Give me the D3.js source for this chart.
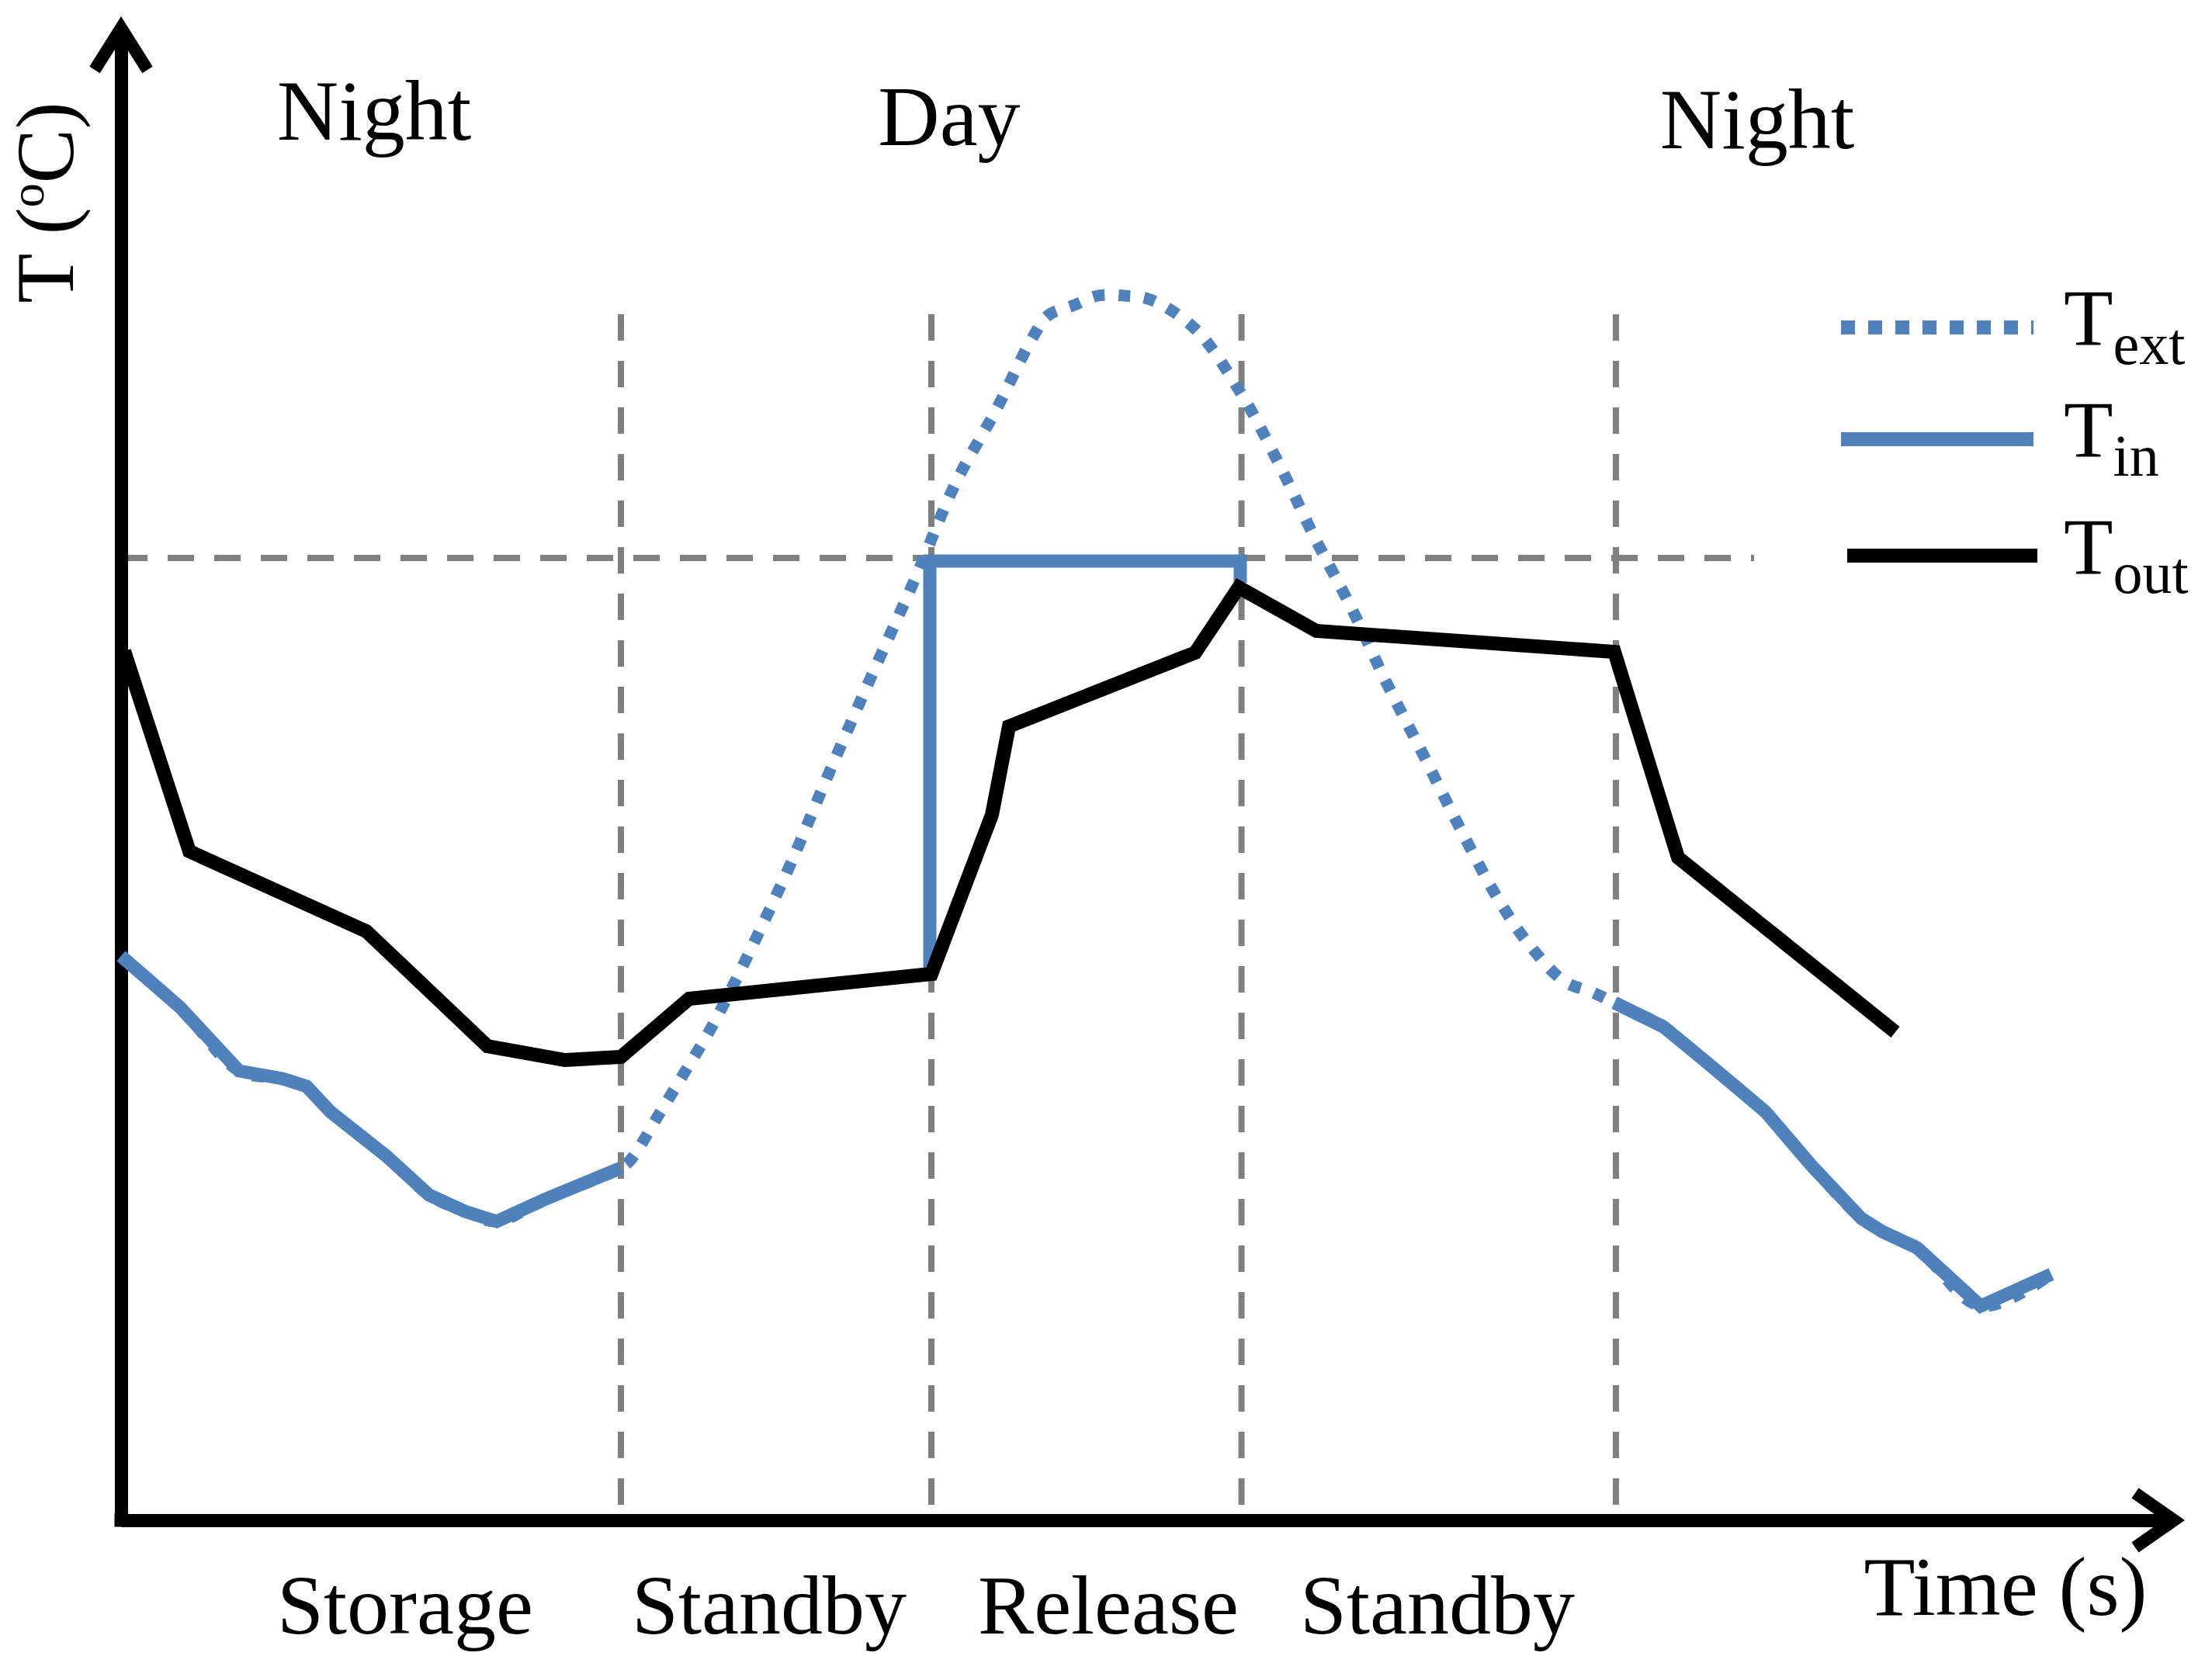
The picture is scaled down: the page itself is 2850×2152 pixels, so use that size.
<!DOCTYPE html>
<html>
<head>
<meta charset="utf-8">
<script src="https://cdn.jsdelivr.net/npm/d3@7"></script>
<style>
  body { margin: 0; background: #fff; }
  text { font-family: 'Liberation Serif', 'Times New Roman', serif; fill: #000; }
</style>
</head>
<body>
<script>
// time in arbitrary units, temperature in arbitrary units (schematic chart)
const phaseBounds = [16.1, 26.1, 36.09, 48.15];
const setPoint = 62;
const guideTop = 77.7;
const setPointEnd = 52.6;

const periodLabels = ['Night', 'Day', 'Night'];
const modeLabels = ['Storage', 'Standby', 'Release', 'Standby'];
const legendSubs = ['ext', 'in', 'out'];

// T_out (black)
const toutTime = [0.1, 2.2, 7.9, 11.8, 14.3, 16.1, 18.3, 26.1, 28.05, 28.6, 34.6, 36.0, 38.5, 48.1, 50.15, 57.15];
const toutTemp = [56.0, 43.1, 37.95, 30.55, 29.65, 29.85, 33.6, 35.2, 45.45, 51.15, 55.9, 60.1, 57.3, 55.95, 42.7, 31.45];

// T_in (solid blue), three pieces
const tinStorageTime = [0, 1.9, 3.8, 5.2, 5.975, 6.75, 8.525, 9.925, 11.075, 12.1, 13.625, 16.1];
const tinStorageTemp = [36.35, 33.05, 28.95, 28.45, 27.95, 26.3, 23.5, 20.95, 19.9, 19.25, 20.65, 22.7];
const tinReleaseTime = [26.05, 26.05, 36.05, 36.05];
const tinReleaseTemp = [35.1, 61.8, 61.8, 60.4];
const tinNightTime = [48.1, 49.675, 50.925, 52.0, 52.975, 54.45, 56.05, 56.725, 57.85, 59.9, 62.175];
const tinNightTemp = [33.35, 31.8, 29.75, 27.95, 26.3, 22.85, 19.45, 18.6, 17.55, 13.8, 15.85];

// T_ext (dotted blue)
const textTime = [0, 1.9, 3.8, 5.2, 5.975, 6.75, 8.525, 9.925, 11.075, 12.1, 13.625, 16.1,
  16.425, 17.325, 18.225, 19.125, 21.4, 22.75, 24.15, 25.55, 26.9, 28.175, 29.375, 29.875,
  30.65, 31.475, 32.3, 33.15, 34.6, 36.075, 37.3, 38.45, 39.65, 40.75, 41.95, 43.1, 44.35,
  45.35, 46.5, 47.35,
  48.1, 49.675, 50.925, 52.0, 52.975, 54.45, 56.05, 56.725, 57.85, 59.9, 62.175];
const textTemp = [36.35, 33.05, 28.95, 28.45, 27.95, 26.3, 23.5, 20.95, 19.9, 19.25, 20.65, 22.7,
  23.25, 26.15, 29.1, 32.15, 41.55, 47.9, 54.3, 60.55, 66.9, 71.5, 76.25, 77.65,
  78.25, 78.9, 78.9, 78.65, 76.75, 72.6, 68.05, 63.3, 58.7, 54.0, 49.3, 44.7, 40.05,
  37.1, 34.7, 34.05,
  33.35, 31.8, 29.75, 27.95, 26.3, 22.85, 19.45, 18.6, 17.55, 13.8, 15.85];

const blue = '#4f81bd';
const gray = '#808080';

const svg = d3.select('body').append('svg')
    .attr('width', 2850)
    .attr('height', 2152);

const x = d3.scaleLinear().domain([0, 66.125]).range([156, 2801]);
const y = d3.scaleLinear().domain([0, 96.15]).range([1959, 36]);

const zip = (ts, vs) => ts.map((t, i) => ({t, v: vs[i]}));

// guide lines
const guides = svg.append('g')
    .attr('stroke', gray)
    .attr('stroke-width', 8)
    .attr('stroke-dasharray', '34 26')
    .attr('fill', 'none');

guides.append('line')
    .attr('x1', x(0)).attr('x2', x(setPointEnd))
    .attr('y1', y(setPoint)).attr('y2', y(setPoint));

guides.selectAll('line.v')
  .data(phaseBounds)
  .enter().append('line')
    .attr('class', 'v')
    .attr('x1', d => x(d)).attr('x2', d => x(d))
    .attr('y1', y(guideTop)).attr('y2', y(0));

// axes
svg.append('g')
    .attr('transform', `translate(0,${y(0)})`)
    .call(d3.axisBottom(x).tickValues([]).tickSizeOuter(0));
svg.append('g')
    .attr('transform', `translate(${x(0)},0)`)
    .call(d3.axisLeft(y).tickValues([]).tickSizeOuter(0));
svg.selectAll('.domain')
    .attr('stroke', '#000')
    .attr('stroke-width', 17);

svg.append('rect')
    .attr('x', x(0) - 8.5).attr('y', y(0) - 8.5)
    .attr('width', 17).attr('height', 17)
    .attr('fill', '#000');

const xEnd = x.range()[1], yEnd = y.range()[1];
svg.append('path')
    .attr('d', `M${xEnd - 50},${y(0) - 35}L${xEnd},${y(0)}L${xEnd - 50},${y(0) + 35}`)
    .attr('fill', 'none').attr('stroke', '#000').attr('stroke-width', 16)
    .attr('stroke-linejoin', 'miter').attr('stroke-miterlimit', 10);
svg.append('path')
    .attr('d', `M${x(0) - 34},${yEnd + 54}L${x(0)},${yEnd}L${x(0) + 34},${yEnd + 54}`)
    .attr('fill', 'none').attr('stroke', '#000').attr('stroke-width', 16)
    .attr('stroke-linejoin', 'miter').attr('stroke-miterlimit', 10);

// series
const straight = d3.line().x(d => x(d.t)).y(d => y(d.v));
const smooth = d3.line().x(d => x(d.t)).y(d => y(d.v)).curve(d3.curveCatmullRom.alpha(0.5));

svg.append('path')
    .attr('d', smooth(zip(textTime, textTemp)))
    .attr('fill', 'none')
    .attr('stroke', blue)
    .attr('stroke-width', 15)
    .attr('stroke-dasharray', '15 18');

[[tinStorageTime, tinStorageTemp], [tinReleaseTime, tinReleaseTemp], [tinNightTime, tinNightTemp]]
  .forEach(([ts, vs]) => {
    svg.append('path')
        .attr('d', straight(zip(ts, vs)))
        .attr('fill', 'none')
        .attr('stroke', blue)
        .attr('stroke-width', 17);
  });

svg.append('path')
    .attr('d', straight(zip(toutTime, toutTemp)))
    .attr('fill', 'none')
    .attr('stroke', '#000')
    .attr('stroke-width', 18);

// labels
svg.selectAll('text.period')
  .data(periodLabels)
  .enter().append('text')
    .attr('class', 'period')
    .attr('x', (d, i) => [482, 1223, 2264][i])
    .attr('y', (d, i) => [180, 187, 191][i])
    .attr('text-anchor', 'middle')
    .attr('font-size', 110)
    .text(d => d);

svg.selectAll('text.mode')
  .data(modeLabels)
  .enter().append('text')
    .attr('class', 'mode')
    .attr('x', (d, i) => [522, 991, 1428, 1852][i])
    .attr('y', 2105)
    .attr('text-anchor', 'middle')
    .attr('font-size', 108)
    .text(d => d);

svg.append('text')
    .attr('x', 2584).attr('y', 2081)
    .attr('text-anchor', 'middle')
    .attr('font-size', 108)
    .text('Time (s)');

const yLabel = svg.append('text')
    .attr('transform', 'translate(94,261) rotate(-90)')
    .attr('text-anchor', 'middle')
    .attr('font-size', 105);
yLabel.append('tspan').text('T (');
yLabel.append('tspan').attr('font-size', 62).attr('dy', -38).text('o');
yLabel.append('tspan').attr('dy', 38).text('C)');

// legend
const legendY = [422, 566, 716];
const legend = svg.append('g');
legendSubs.forEach((sub, i) => {
  const line = legend.append('line')
      .attr('x1', i === 2 ? 2380 : 2372).attr('x2', i === 2 ? 2625 : 2620)
      .attr('y1', legendY[i]).attr('y2', legendY[i])
      .attr('stroke', i === 2 ? '#000' : blue)
      .attr('stroke-width', 18);
  if (i === 0) line.attr('stroke-dasharray', '18 17');
  const label = legend.append('text')
      .attr('x', 2659).attr('y', [445, 589, 740][i])
      .attr('font-size', 104);
  label.append('tspan').text('T');
  label.append('tspan').attr('font-size', 76).attr('dy', 24).text(sub);
});
</script>
</body>
</html>
